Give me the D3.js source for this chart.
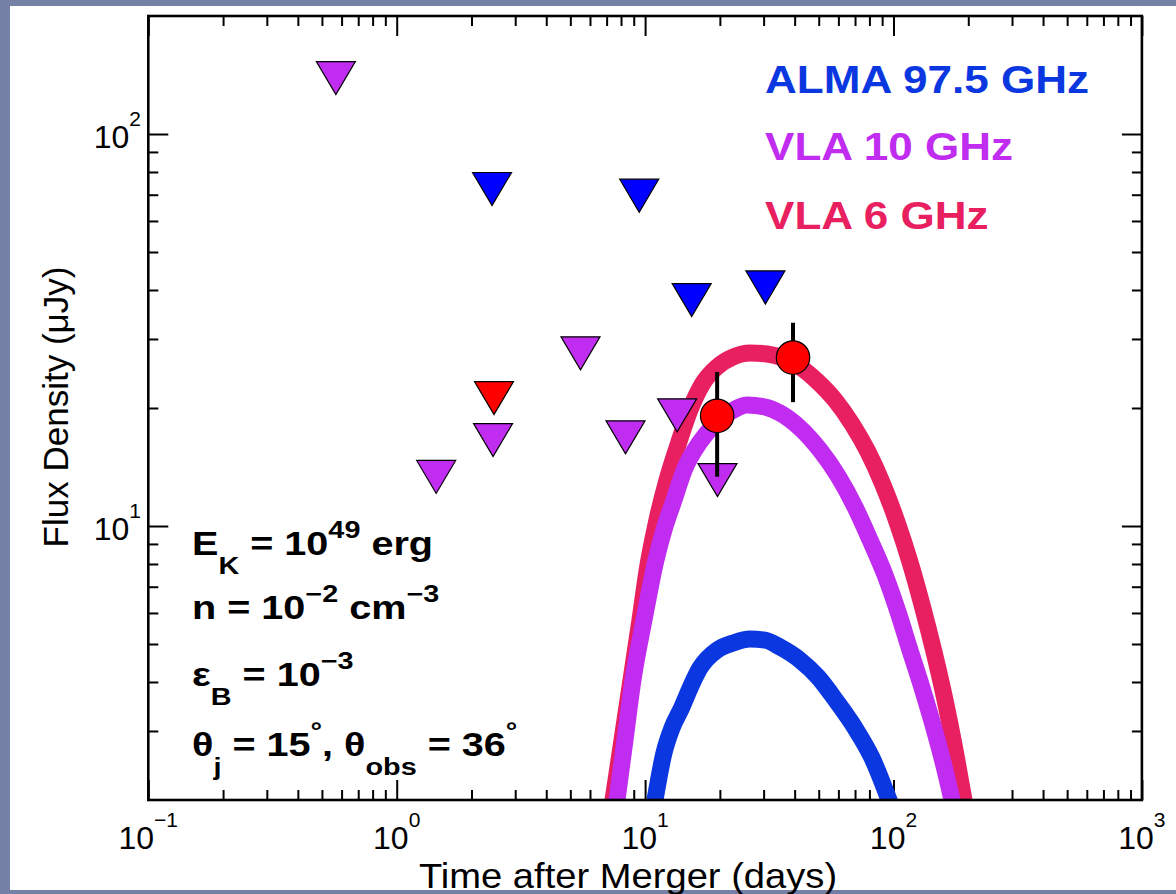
<!DOCTYPE html>
<html><head><meta charset="utf-8">
<script src="https://cdn.jsdelivr.net/npm/d3@7"></script>
<style>html,body{margin:0;padding:0;background:#fff;} svg{display:block} text{font-family:"Liberation Sans",Arial,Helvetica,sans-serif;}</style>
</head><body>
<svg id="c" width="1176" height="894"></svg>
<script>
// ---------- data ----------
const xTicks = [0.1, 1, 10, 100, 1000];
const xTickExp = ["\u22121", "0", "1", "2", "3"];
const yTicks = [10, 100];
const yTickExp = ["1", "2"];

// VLA 10 GHz upper limits (days, uJy)
const vla10LimT = [0.569, 1.442, 2.443, 5.495, 8.34, 13.46, 19.56];
const vla10LimF = [138.9, 13.34, 16.57, 27.58, 16.84, 19.16, 13.1];
// ALMA 97.5 GHz upper limits
const almaLimT = [2.42, 9.47, 15.40, 30.5];
const almaLimF = [72.4, 69.6, 37.7, 40.6];
// VLA 6 GHz upper limit
const vla6LimT = [2.464];
const vla6LimF = [21.2];
// VLA 6 GHz detections
const vla6DetT = [19.5, 39.4];
const vla6DetF = [19.1, 26.9];
const vla6DetLo = [13.36, 20.7];
const vla6DetHi = [24.7, 33.0];

// model light curves
const m6T = [7.427, 8.072, 8.773, 9.535, 10.27, 11.16, 12.25, 13.56, 15.16, 17.10, 19.48, 22.59, 26.44, 30.96, 35.91, 42.04, 49.21, 58.14, 68.07, 78.97, 90.75, 103.3, 116.5, 130.3, 145.6, 161.2, 176.9, 192.2];
const m6F = [2.0, 2.845, 4.047, 5.757, 7.953, 10.36, 13.10, 16.09, 19.77, 23.16, 25.45, 26.99, 27.63, 27.47, 26.83, 25.45, 23.44, 20.96, 18.21, 15.45, 12.73, 10.24, 8.095, 6.288, 4.769, 3.599, 2.683, 2.0];
const m10T = [7.707, 8.299, 8.938, 9.898, 11.06, 11.91, 12.95, 14.48, 16.63, 19.12, 21.97, 25.72, 30.39, 34.92, 42.04, 50.59, 59.78, 69.99, 80.44, 92.45, 104.3, 116.5, 130.3, 144.2, 158.2, 172.0];
const m10F = [2.0, 2.845, 4.047, 5.757, 8.191, 9.772, 11.45, 14.06, 16.38, 18.21, 19.53, 20.36, 20.12, 19.42, 17.79, 15.62, 13.42, 11.18, 9.214, 7.499, 6.033, 4.825, 3.862, 3.108, 2.500, 2.0];
const m97T = [10.96, 11.91, 12.83, 14.08, 15.30, 16.63, 19.48, 22.59, 26.44, 30.39, 34.92, 42.04, 49.67, 59.23, 69.99, 81.95, 95.92];
const m97F = [2.0, 2.636, 3.053, 3.454, 3.908, 4.343, 4.825, 5.028, 5.147, 5.117, 4.911, 4.550, 4.119, 3.557, 3.053, 2.560, 2.0];

const legendLabels = ["ALMA 97.5 GHz", "VLA 10 GHz", "VLA 6 GHz"];
const legendColors = ["#0b37e0", "#c02cf0", "#e8205f"];

// ---------- layout ----------
const W = 1176, H = 894;
const L = 148.3, R = 1141.9, T = 16, B = 800;
const svg = d3.select("#c");

svg.append("rect").attr("width", W).attr("height", H).attr("fill", "#7580a7");
svg.append("rect").attr("x", 10).attr("y", 6).attr("width", W - 10).attr("height", 884).attr("fill", "#fff");

const x = d3.scaleLog().domain([0.1, 1000]).range([L, R]);
const y = d3.scaleLog().domain([2, 200]).range([B, T]);

svg.append("defs").append("clipPath").attr("id", "clip")
  .append("rect").attr("x", L).attr("y", T).attr("width", R - L).attr("height", B - T);

// minor ticks
const xMinor = [];
for (let e = -1; e < 3; e++) for (let m = 2; m <= 9; m++) xMinor.push(m * Math.pow(10, e));
const yMinor = [3, 4, 5, 6, 7, 8, 9, 20, 30, 40, 50, 60, 70, 80, 90];

function styleAxis(g) {
  g.select(".domain").remove();
  g.selectAll(".tick line").attr("stroke", "#000").attr("stroke-width", 2);
  g.selectAll(".tick text").remove();
}
const ax = [
  [d3.axisBottom(x), `translate(0,${B})`],
  [d3.axisTop(x), `translate(0,${T})`]
];
ax.forEach(([a, tr]) => {
  svg.append("g").attr("transform", tr).call(a.tickValues(xTicks).tickSize(-20).tickSizeOuter(0)).call(styleAxis);
  svg.append("g").attr("transform", tr).call(a.tickValues(xMinor).tickSize(-10).tickSizeOuter(0)).call(styleAxis);
});
const ay = [
  [d3.axisLeft(y), `translate(${L},0)`],
  [d3.axisRight(y), `translate(${R},0)`]
];
ay.forEach(([a, tr]) => {
  svg.append("g").attr("transform", tr).call(a.tickValues(yTicks).tickSize(-20).tickSizeOuter(0)).call(styleAxis);
  svg.append("g").attr("transform", tr).call(a.tickValues(yMinor).tickSize(-10).tickSizeOuter(0)).call(styleAxis);
});

// tick labels
xTicks.forEach((v, i) => {
  const t = svg.append("text").attr("x", x(v)).attr("y", 849).attr("text-anchor", "middle")
    .attr("font-size", 32).attr("fill", "#000");
  t.append("tspan").text("10");
  t.append("tspan").attr("font-size", 21).attr("dy", -22).text(xTickExp[i]);
});
yTicks.forEach((v, i) => {
  const t = svg.append("text").attr("x", 141).attr("y", y(v) + 14).attr("text-anchor", "end")
    .attr("font-size", 32).attr("fill", "#000");
  t.append("tspan").text("10");
  t.append("tspan").attr("font-size", 21).attr("dy", -22).text(yTickExp[i]);
});

// axis titles
svg.append("text").attr("transform", "translate(628,888) scale(1.09,1)").attr("text-anchor", "middle")
  .attr("font-size", 35).text("Time after Merger (days)");
svg.append("text").attr("transform", "translate(68,407) rotate(-90)").attr("text-anchor", "middle")
  .attr("font-size", 35).text("Flux Density (\u03BCJy)");

// model curves
const line = d3.line().x(d => x(d[0])).y(d => y(d[1])).curve(d3.curveMonotoneX);
const curves = [
  [m6T, m6F, legendColors[2]],
  [m10T, m10F, legendColors[1]],
  [m97T, m97F, legendColors[0]]
];
const cg = svg.append("g").attr("clip-path", "url(#clip)");
curves.forEach(([tt, ff, c]) => {
  cg.append("path").attr("d", line(tt.map((t, i) => [t, ff[i]])))
    .attr("fill", "none").attr("stroke", c).attr("stroke-width", 17).attr("stroke-linecap", "square").attr("stroke-linejoin", "round");
});

// plot frame
svg.append("rect").attr("x", L).attr("y", T).attr("width", R - L).attr("height", B - T)
  .attr("fill", "none").attr("stroke", "#000").attr("stroke-width", 2.6);

// upper limit triangles
const tri = "M-19.5,-16.5L19.5,-16.5L0,16.5Z";
function limits(tt, ff, col) {
  svg.append("g").selectAll("path").data(tt.map((t, i) => [t, ff[i]])).join("path")
    .attr("d", tri).attr("transform", d => `translate(${x(d[0])},${y(d[1])})`)
    .attr("fill", col).attr("stroke", "#000").attr("stroke-width", 1.2).attr("stroke-linejoin", "miter");
}
limits(vla10LimT, vla10LimF, "#c02cf0");
limits(almaLimT, almaLimF, "#0000ff");
limits(vla6LimT, vla6LimF, "#ff0000");

// detections
const det = vla6DetT.map((t, i) => ({ t, f: vla6DetF[i], lo: vla6DetLo[i], hi: vla6DetHi[i] }));
svg.append("g").selectAll("line").data(det).join("line")
  .attr("x1", d => x(d.t)).attr("x2", d => x(d.t)).attr("y1", d => y(d.lo)).attr("y2", d => y(d.hi))
  .attr("stroke", "#000").attr("stroke-width", 4);
svg.append("g").selectAll("circle").data(det).join("circle")
  .attr("cx", d => x(d.t)).attr("cy", d => y(d.f)).attr("r", 16.7)
  .attr("fill", "#ff0000").attr("stroke", "#000").attr("stroke-width", 1.2);

// legend
legendLabels.forEach((s, i) => {
  svg.append("text").attr("transform", `translate(765,${[93, 160, 229][i]}) scale(1.13,1)`)
    .attr("font-size", 39).attr("font-weight", "bold").attr("fill", legendColors[i]).text(s);
});

// annotation
function rich(xx, yy, segs) {
  const fs = 33, ss = 24, sx = 1.2;
  const t = svg.append("text").attr("transform", `translate(${xx},${yy}) scale(${sx},1)`)
    .attr("font-weight", "bold").attr("fill", "#000").style("white-space", "pre");
  let cur = 0;
  segs.forEach(([txt, k]) => {
    const off = k === "sup" ? -17 : k === "sub" ? 19 : 0;
    t.append("tspan").attr("dy", off - cur).attr("font-size", k ? ss : fs).text(txt);
    cur = off;
  });
}
rich(192, 555, [["E"], ["K", "sub"], [" = 10"], ["49", "sup"], [" erg"]]);
rich(192, 619, [["n = 10"], ["\u22122", "sup"], [" cm"], ["\u22123", "sup"]]);
rich(192, 686, [["\u03B5"], ["B", "sub"], [" = 10"], ["\u22123", "sup"]]);
rich(192, 756, [["\u03B8"], ["j", "sub"], [" = 15"], ["\u00B0", "sup"], [", \u03B8"], ["obs", "sub"], [" = 36"], ["\u00B0", "sup"]]);
</script>
</body></html>
